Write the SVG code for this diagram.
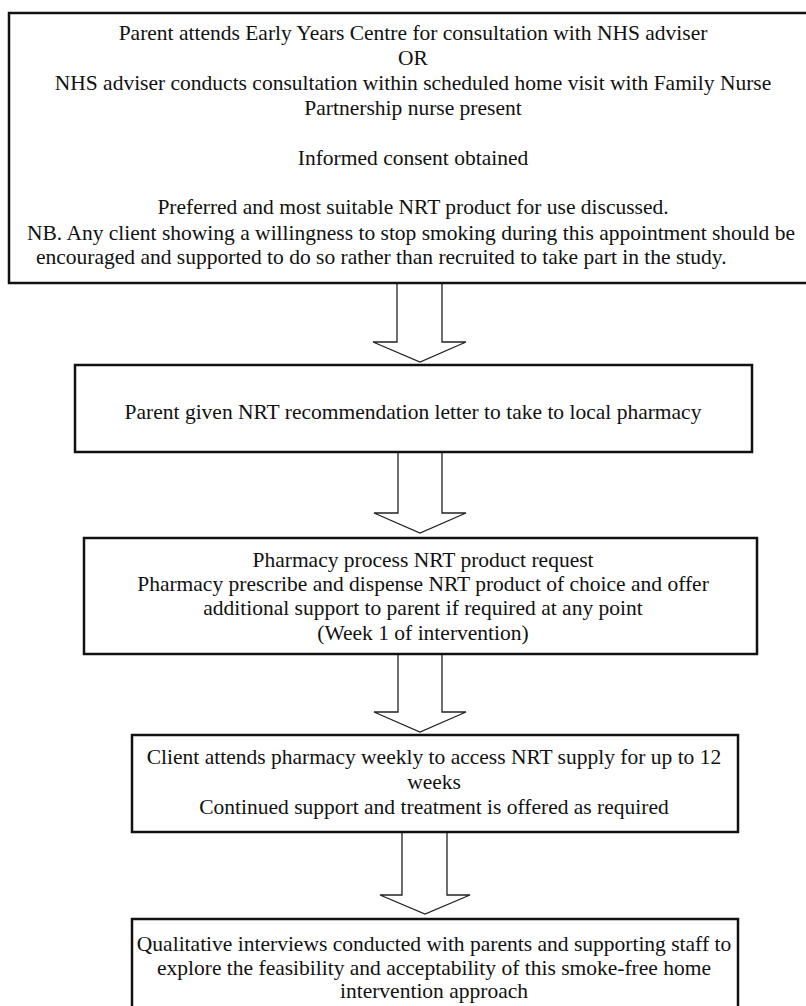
<svg xmlns="http://www.w3.org/2000/svg" width="806" height="1006" viewBox="0 0 806 1006">
<style>
.box{fill:#fff;stroke:#111;stroke-width:2.5}
.arr{fill:#fff;stroke:#222;stroke-width:1.3;stroke-linejoin:miter}
text{font-family:"Liberation Serif","Times New Roman",serif;font-size:21.5px;fill:#111}
.c{text-anchor:middle}
</style>
<rect width="806" height="1006" fill="#fff"/>
<g id="connectors">
<path class="arr" d="M397,283 V342 H373 L420,362 L466,342 H442 V283"/>
<path class="arr" d="M398,452 V513 H374 L420,533 L466,513 H442 V452"/>
<path class="arr" d="M398,654 V712 H374 L420,732 L466,712 H442 V654"/>
<path class="arr" d="M402,832 V895 H380 L425,914 L470,895 H447 V832"/>
</g>
<g id="node1">
<rect class="box" x="9" y="13" width="810" height="270"/>
<text class="c" x="413" y="40">Parent attends Early Years Centre for consultation with NHS adviser</text>
<text class="c" x="413" y="65">OR</text>
<text class="c" x="413" y="90">NHS adviser conducts consultation within scheduled home visit with Family Nurse</text>
<text class="c" x="413" y="115">Partnership nurse present</text>
<text class="c" x="413" y="165">Informed consent obtained</text>
<text class="c" x="413" y="214">Preferred and most suitable NRT product for use discussed.</text>
<text class="c" x="411" y="240">NB. Any client showing a willingness to stop smoking during this appointment should be</text>
<text x="36" y="264">encouraged and supported to do so rather than recruited to take part in the study.</text>
</g>
<g id="node2">
<rect class="box" x="75" y="365" width="677" height="87"/>
<text class="c" x="413" y="419">Parent given NRT recommendation letter to take to local pharmacy</text>
</g>
<g id="node3">
<rect class="box" x="84" y="538" width="673" height="116"/>
<text class="c" x="423" y="567">Pharmacy process NRT product request</text>
<text class="c" x="423" y="591">Pharmacy prescribe and dispense NRT product of choice and offer</text>
<text class="c" x="423" y="615">additional support to parent if required at any point</text>
<text class="c" x="423" y="640">(Week 1 of intervention)</text>
</g>
<g id="node4">
<rect class="box" x="132" y="735" width="606" height="97"/>
<text class="c" x="434" y="764">Client attends pharmacy weekly to access NRT supply for up to 12</text>
<text class="c" x="434" y="789">weeks</text>
<text class="c" x="434" y="814">Continued support and treatment is offered as required</text>
</g>
<g id="node5">
<rect class="box" x="132" y="919" width="606" height="95"/>
<text class="c" x="434" y="951">Qualitative interviews conducted with parents and supporting staff to</text>
<text class="c" x="434" y="975">explore the feasibility and acceptability of this smoke-free home</text>
<text class="c" x="434" y="998">intervention approach</text>
</g>
</svg>
